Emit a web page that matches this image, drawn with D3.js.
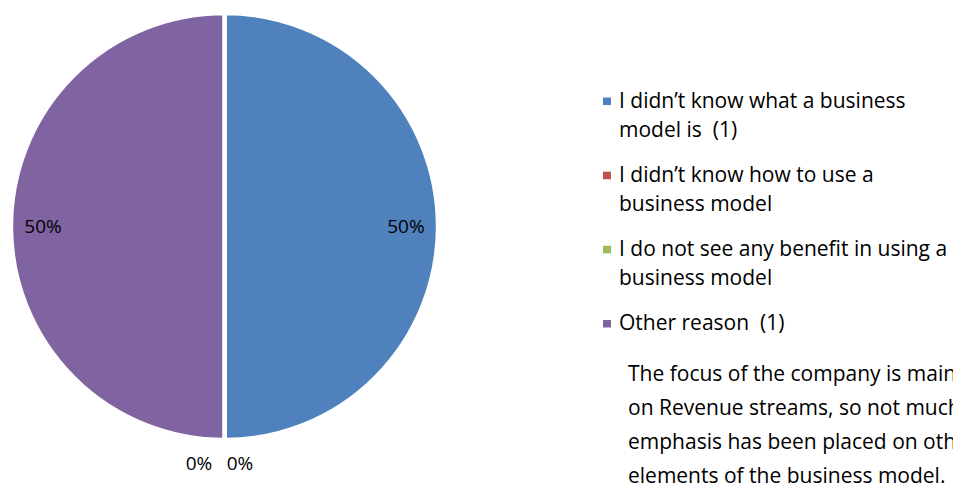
<!DOCTYPE html>
<html>
<head>
<meta charset="utf-8">
<script src="https://cdn.jsdelivr.net/npm/d3@7/dist/d3.min.js"></script>
<style>
  html, body { margin: 0; padding: 0; background: #fff; overflow: hidden; }
  text { font-family: "Open Sans", Lato, sans-serif; fill: #000; white-space: pre; }
</style>
</head>
<body>
<svg id="chart" width="953" height="485"></svg>
<script>
// Survey answers: why a business model is not used
const categories = [
  "I didn\u2019t know what a business model is",
  "I didn\u2019t know how to use a business model",
  "I do not see any benefit in using a business model",
  "Other reason"
];
const values = [1, 0, 0, 1];
const colors = ["#4F81BD", "#C0504D", "#9BBB59", "#8064A2"];
const legendLines = [
  ["I didn\u2019t know what a business", "model is  (1)"],
  ["I didn\u2019t know how to use a", "business model"],
  ["I do not see any benefit in using a", "business model"],
  ["Other reason  (1)"]
];
const noteLines = [
  "The focus of the company is mainly",
  "on Revenue streams, so not much",
  "emphasis has been placed on other",
  "elements of the business model."
];

const svg = d3.select("#chart");
const cx = 224.5, cy = 226.5, r = 213.5;

const total = d3.sum(values);
const pie = d3.pie().sort(null).value(d => d)(values);
const arc = d3.arc().innerRadius(0).outerRadius(r);

const g = svg.append("g").attr("transform", `translate(${cx},${cy})`);
g.selectAll("path.slice")
  .data(pie)
  .join("path")
  .attr("class", "slice")
  .attr("d", arc)
  .attr("fill", (d, i) => colors[i])
  .attr("stroke", "#fff")
  .attr("stroke-width", 4.5)
  .attr("stroke-linejoin", "round");

const fmt = d3.format(".0%");
// value labels: inside for non-empty slices, just below the pie for empty ones
const inner = d3.arc().innerRadius(r * 0.85).outerRadius(r * 0.85);
const zeroIdx = [];
pie.forEach((d, i) => { if (d.value === 0) zeroIdx.push(i); });
g.selectAll("text.lbl")
  .data(pie)
  .join("text")
  .attr("class", "lbl")
  .attr("font-size", 19)
  .attr("text-anchor", "middle")
  .attr("transform", (d, i) => {
    if (d.value > 0) {
      const [x, y] = inner.centroid(d);
      return `translate(${x},${y + 6})`;
    }
    const k = zeroIdx.indexOf(i);
    const dx = k === 0 ? 15.5 : -25.5;
    return `translate(${dx},${r + 30})`;
  })
  .text(d => fmt(d.value / total));

// legend
const lg = svg.append("g").attr("transform", "translate(603,0)");
const itemBase = [107.5, 181.7, 255.8, 330];
const lineH = 29;
categories.forEach((c, i) => {
  const item = lg.append("g").attr("transform", `translate(0,${itemBase[i]})`);
  item.append("rect")
    .attr("x", 0).attr("y", -10).attr("width", 8).attr("height", 7.5)
    .attr("fill", colors[i]);
  legendLines[i].forEach((t, j) => {
    item.append("text")
      .attr("x", 16).attr("y", j * lineH)
      .attr("font-size", 21)
      .text(t);
  });
});

// annotation note
const note = svg.append("g").attr("transform", "translate(628,381)");
noteLines.forEach((t, j) => {
  note.append("text")
    .attr("x", 0).attr("y", j * 34)
    .attr("font-size", 21)
    .text(t);
});
</script>
</body>
</html>
